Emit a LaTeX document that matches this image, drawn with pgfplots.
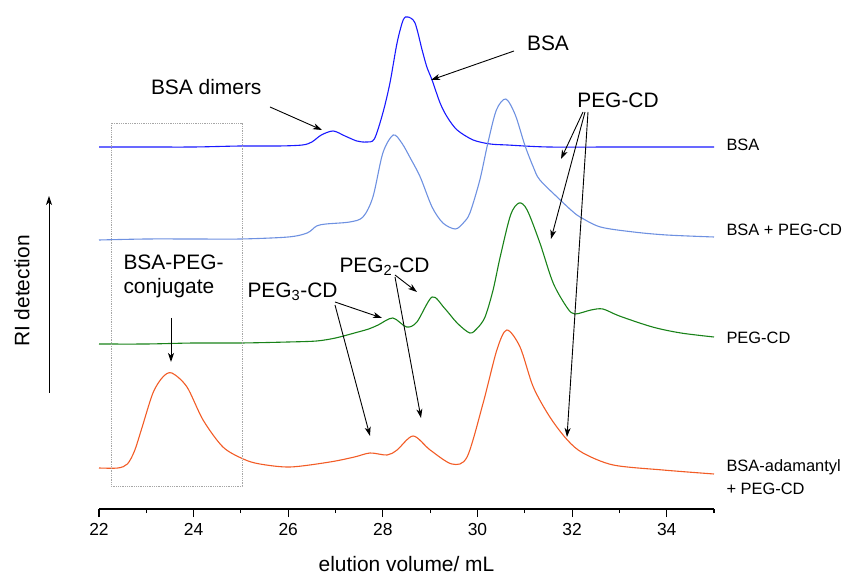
\documentclass[border=0pt]{standalone}
\usepackage{pgfplots}
\pgfplotsset{compat=1.18}
\usepackage{fontspec}
\setmainfont{Liberation Sans}
\usetikzlibrary{arrows.meta}
\definecolor{cBSA}{RGB}{25,25,255}
\definecolor{cMix}{RGB}{110,145,225}
\definecolor{cPEG}{RGB}{25,130,25}
\definecolor{cAda}{RGB}{242,92,38}
\newcommand{\annfont}{\fontsize{21}{24}\selectfont}
\newcommand{\labfont}{\fontsize{16.5}{20}\selectfont}
\begin{document}
\begin{tikzpicture}
\path[use as bounding box] (0,0) rectangle (849bp,579bp);
\begin{axis}[
  at={(99bp,70bp)}, anchor=south west, scale only axis,
  width=615bp, height=509bp,
  xmin=22, xmax=35, ymin=0, ymax=509,
  axis x line=bottom, axis y line=none,
  axis line style={-, line width=1.1bp, black},
  xtick={22,24,...,34}, minor xtick={23,25,...,33,35},
  tick align=outside, major tick length=8bp, minor tick length=4bp,
  every tick/.style={black, line width=1.1bp},
  /pgf/number format/assume math mode=true,
  xticklabel style={font=\fontsize{17.5}{20}\selectfont, yshift=-3bp},
  xlabel={elution volume/ mL},
  xlabel style={font=\annfont, at={(axis description cs:0.5,0)}, anchor=center, yshift=-55bp},
  clip=false,
  every axis plot/.append style={line width=1.1bp, smooth, tension=0.5},
]
% BSA
\addplot[cBSA] coordinates {
(22,362) (23,362) (24,362) (25,363) (25.8,363) (26.3,364) (26.5,367) (26.7,374) (26.95,378) (27.2,373) (27.45,368) (27.65,367)
(27.82,370) (28.0,396) (28.15,426) (28.3,466) (28.43,489) (28.53,492) (28.68,486) (28.83,459) (28.93,442)
(29.04,429) (29.21,406) (29.36,392) (29.57,379) (29.91,369) (30.27,365) (30.63,364) (31.5,362) (33,362) (35,362)};
% BSA + PEG-CD
\addplot[cMix] coordinates {
(22,269) (23,270) (24,270) (25,270) (26,272) (26.4,276) (26.6,283) (26.8,285) (27.3,287) (27.58,292)
(27.79,312) (28.0,356) (28.22,374) (28.4,366) (28.58,351) (28.79,332) (29.04,302) (29.27,286) (29.53,280)
(29.7,286) (29.84,296) (30.05,329) (30.22,366) (30.4,399) (30.6,410) (30.8,394) (31.0,364) (31.18,342)
(31.32,329) (31.75,309) (32.0,298) (32.17,292) (32.6,282) (33.3,277) (34,274) (35,272)};
% PEG-CD
\addplot[cPEG] coordinates {
(22,165) (23,165) (24,166) (25,166) (26,167) (26.6,168) (27.0,171) (27.4,176) (27.7,180) (27.9,184)
(28.21,191) (28.5,182) (28.72,187) (29.04,212) (29.3,201) (29.57,186) (29.84,176) (30.0,181) (30.16,192)
(30.33,219) (30.48,252) (30.7,294) (30.88,306) (31.05,299) (31.32,266) (31.6,226) (31.9,201) (32.06,195)
(32.4,199) (32.65,200) (33.0,193) (33.7,182) (34.3,176) (35,172)};
% BSA-adamantyl + PEG-CD
\addplot[cAda] coordinates {
(22,41) (22.4,41) (22.6,45) (22.75,58) (22.9,80) (23.14,116) (23.35,132) (23.54,136) (23.86,122) (24.2,89) (24.62,62)
(25.05,50) (25.4,45) (26.04,42) (26.88,47) (27.4,52) (27.73,56) (28.09,54) (28.3,59) (28.64,73) (29.0,59)
(29.46,45) (29.78,52) (30.12,106) (30.41,159) (30.62,179) (30.9,162) (31.18,122) (31.53,92) (31.9,69)
(32.23,56) (32.87,44) (33.92,39) (35,35)};
\end{axis}
\begin{scope}[x=1bp,y=-1bp,yshift=579bp,>={Stealth[length=9bp,width=6bp,inset=2.5bp]}]
% dotted box
\draw[gray!70, densely dotted, line width=0.8bp] (111,123) rectangle (242,486);
% y label
\node[rotate=90, font=\annfont] at (22,291) {RI detection};
\draw[->, line width=1bp] (49,393) -- (49,196);
% right labels
\node[anchor=west, font=\labfont] at (723,145) {BSA};
\node[anchor=west, font=\labfont] at (723,230) {BSA + PEG-CD};
\node[anchor=west, font=\labfont] at (723,338) {PEG-CD};
\node[anchor=west, font=\labfont] at (723,467) {BSA-adamantyl};
\node[anchor=west, font=\labfont] at (723,489) {+ PEG-CD};
% annotations
\node[anchor=east, font=\annfont] at (265,87) {BSA dimers};
\draw[->, line width=0.9bp] (270,107) -- (322,130);
\node[font=\annfont] at (548,43) {BSA};
\draw[->, line width=0.9bp] (514,51) -- (431,80);
\node[font=\annfont] at (618,100) {PEG-CD};
\draw[->, line width=0.9bp] (583,112) -- (561,159);
\draw[->, line width=0.9bp] (585,112) -- (551,239);
\draw[->, line width=0.9bp] (588,112) -- (567,437);
\node[anchor=west, font=\annfont] at (336,267) {PEG$_{\mathrm{2}}$-CD};
\draw[->, line width=0.9bp] (395,275) -- (417,292);
\draw[->, line width=0.9bp] (395,277) -- (421,418);
\node[anchor=west, font=\annfont] at (244,292) {PEG$_{\mathrm{3}}$-CD};
\draw[->, line width=0.9bp] (335,302) -- (382,318);
\draw[->, line width=0.9bp] (335,305) -- (370,436);
\node[anchor=west, font=\annfont, align=left] at (120,276) {BSA-PEG-\\conjugate};
\draw[->, line width=0.9bp] (171,318) -- (171,362);
\end{scope}
\end{tikzpicture}
\end{document}
